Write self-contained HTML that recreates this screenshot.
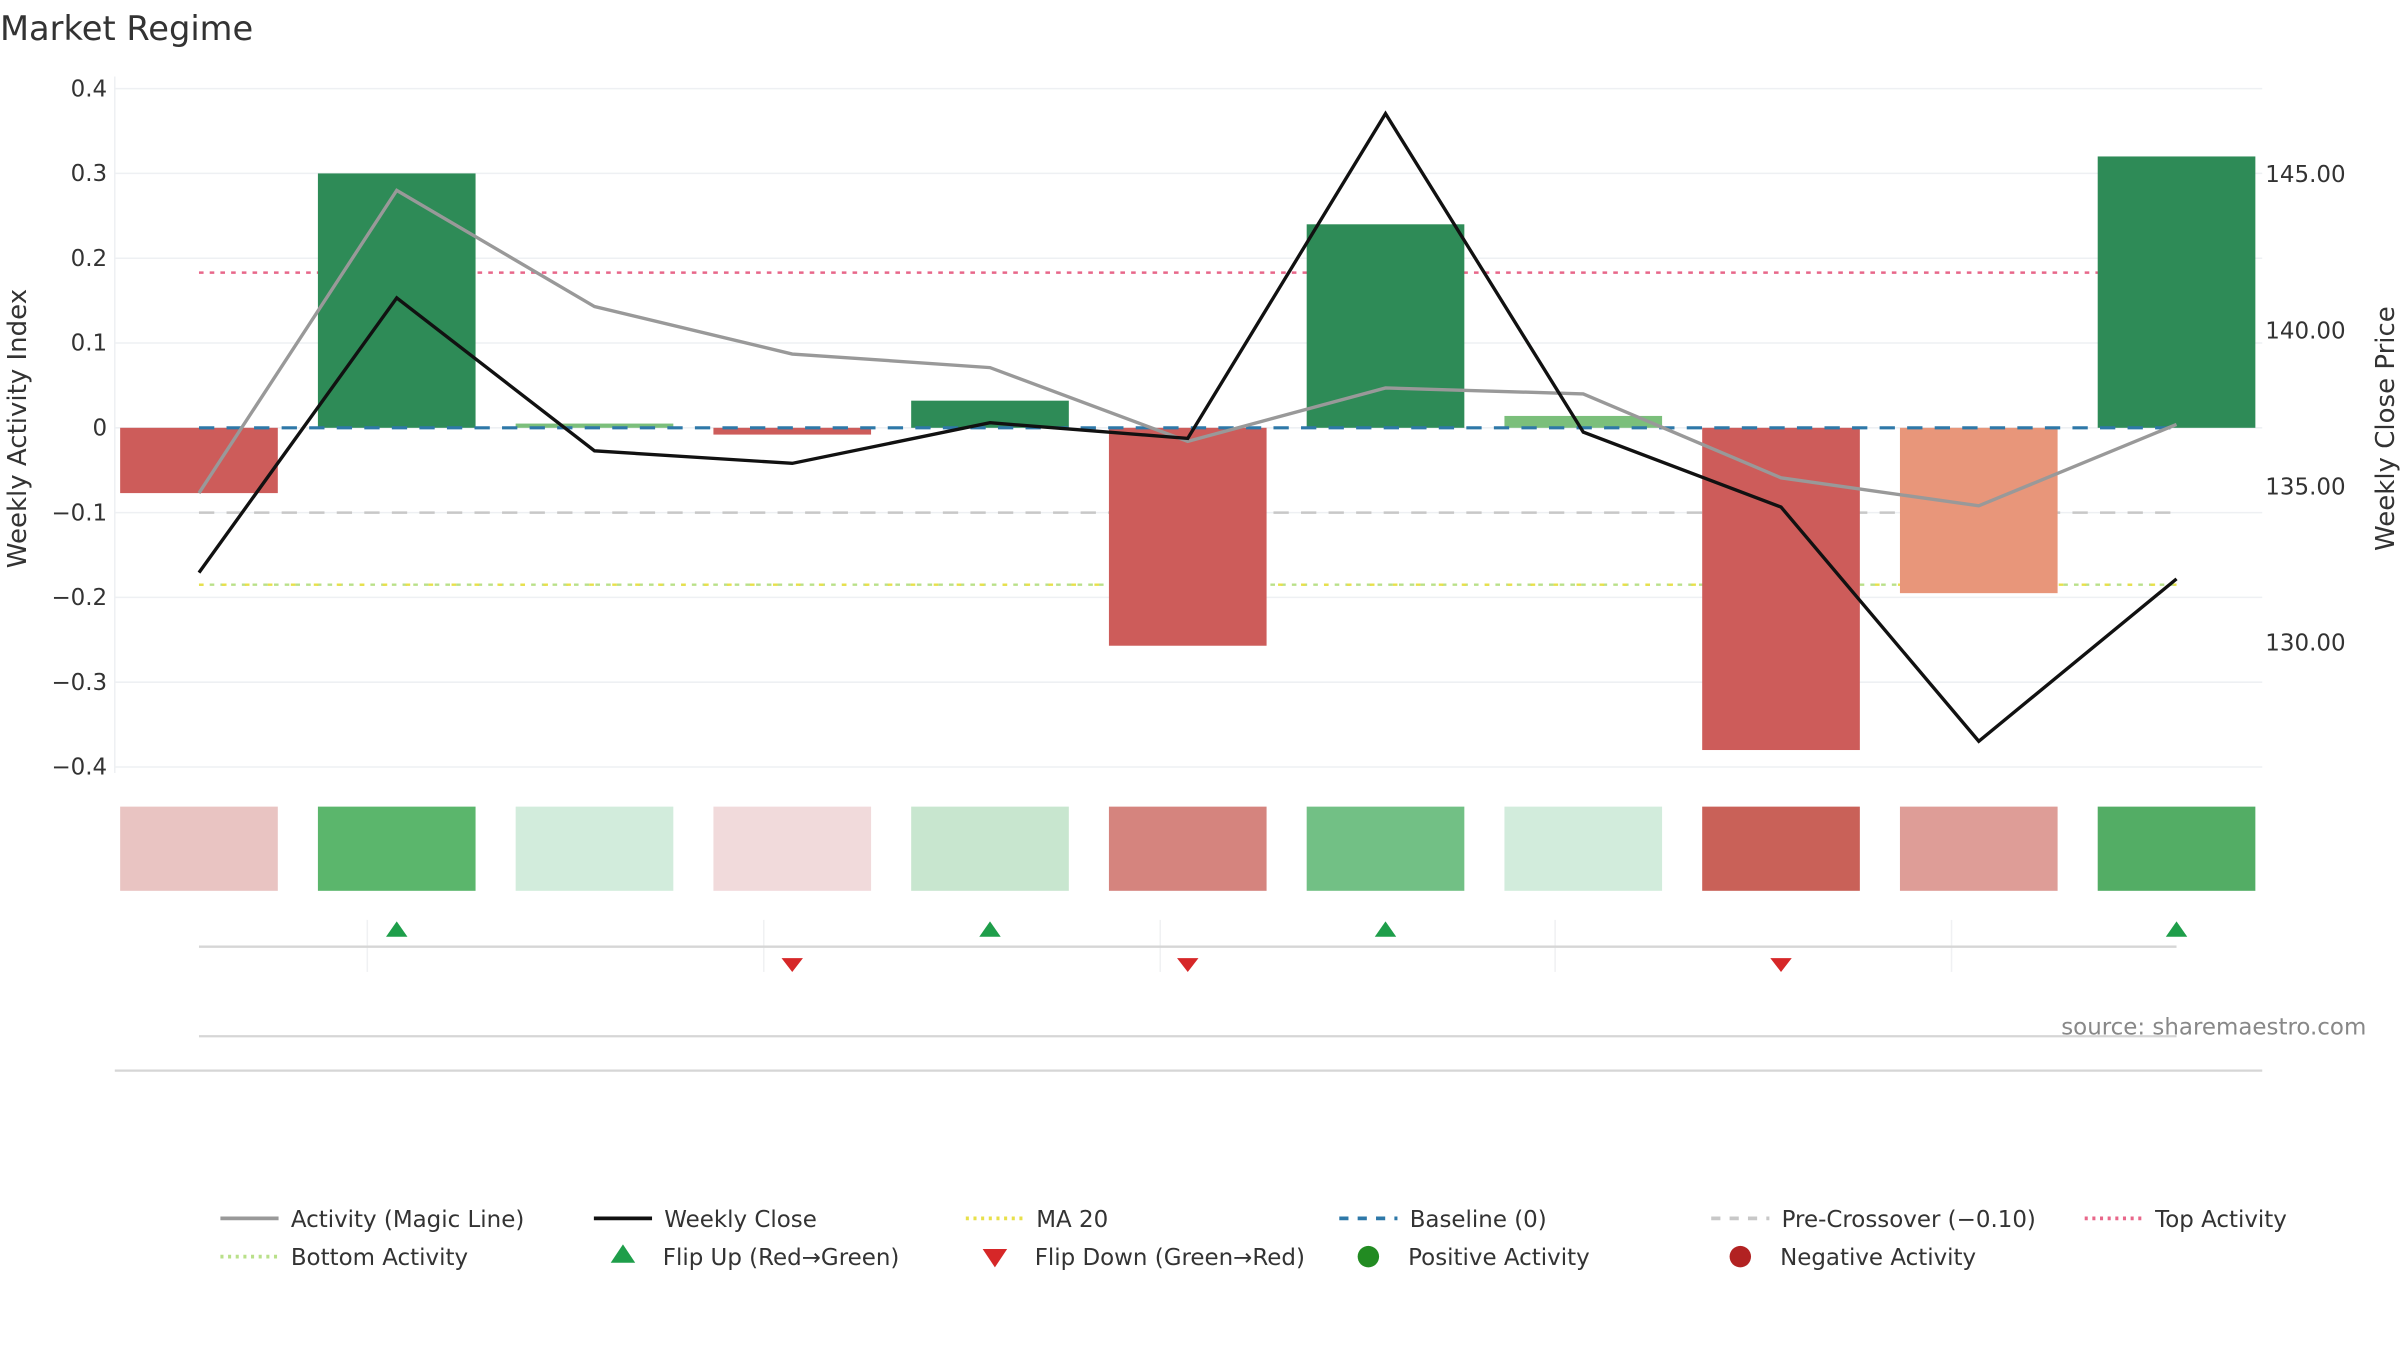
<!DOCTYPE html>
<html><head><meta charset="utf-8"><style>
html,body{margin:0;padding:0;background:#fff}
svg{display:block;font-family:"DejaVu Sans","Liberation Sans",sans-serif}
</style></head><body>
<svg id="chart" width="2400" height="1350" viewBox="0 0 1568 882" preserveAspectRatio="none" xmlns="http://www.w3.org/2000/svg">
<text x="0" y="26" font-size="22" fill="#333">Market Regime</text>
<text transform="translate(17,280) rotate(-90)" text-anchor="middle" font-size="17" fill="#333">Weekly Activity Index</text>
<text transform="translate(1564,280) rotate(-90)" text-anchor="middle" font-size="17" fill="#333">Weekly Close Price</text>
<text x="1546" y="676" text-anchor="end" font-size="15" fill="#888">source: sharemaestro.com</text>
<g id="grid"></g><g id="refs"></g><g id="bars"></g><g id="lines"></g><g id="strip"></g><g id="flips"></g><g id="legend"></g>
</svg>
<script>
const weeks = ["W1","W2","W3","W4","W5","W6","W7","W8","W9","W10","W11"];
const activity = [-0.077, 0.30, 0.005, -0.008, 0.032, -0.257, 0.24, 0.014, -0.38, -0.195, 0.32];
const magicLine = [-0.077, 0.28, 0.143, 0.087, 0.071, -0.016, 0.047, 0.04, -0.059, -0.092, 0.004];
const closePrice = [132.2, 141.0, 136.1, 135.7, 137.0, 136.5, 146.9, 136.7, 134.3, 126.8, 132.0];
const flips = [0, 1, 0, -1, 1, -1, 1, 0, -1, 0, 1];
const heatColors = ["#e9c4c2","#5bb66c","#d2ecdc","#f1dadb","#c8e6cf","#d5847e","#72c085","#d2ecdc","#c96158","#de9d97","#53ad65"];
const barColors = ["#cd5c5a","#2e8b57","#7bbf7b","#cd5c5a","#2e8b57","#cd5c5a","#2e8b57","#7bbf7b","#cd5c5a","#e8967a","#2e8b57"];
const leftTicks = [0.4,0.3,0.2,0.1,0,-0.1,-0.2,-0.3,-0.4];
const rightTicks = [145,140,135,130];
const topActivity = 0.183, bottomActivity = -0.185, ma20 = -0.185, preCross = -0.1, baseline = 0;

const NS="http://www.w3.org/2000/svg";
function mk(parent,tag,attrs){const e=document.createElementNS(NS,tag);for(const k in attrs)e.setAttribute(k,attrs[k]);document.getElementById(parent).appendChild(e);return e;}
const x = i => 130 + i*129.2;
const yL = v => 279.5 - v*554;
const yR = p => 113 + (145-p)*20.4;
const fmt = v => v===0?"0":(v<0?"\u2212"+Math.abs(v).toFixed(1):v.toFixed(1));

leftTicks.forEach(v=>{
  const l=mk("grid","line",{x1:75,x2:1478,y1:yL(v),y2:yL(v),stroke:"#eef0f3","stroke-width":1});
  
  
  const t=mk("grid","text",{x:70,y:yL(v)+5,"text-anchor":"end","font-size":15,fill:"#333"});
  t.textContent=fmt(v);
  
  
});
const ax=mk("grid","line",{x1:75,x2:75,y1:50,y2:505,stroke:"#eef0f3"});


rightTicks.forEach(p=>{
  const t=mk("grid","text",{x:1480,y:yR(p)+6,"font-size":15,fill:"#333"});
  t.textContent=p.toFixed(2);
  
  
});

activity.forEach((v,i)=>{
  const y0=Math.min(yL(v),yL(0)), h=Math.max(Math.abs(yL(v)-yL(0)),2);
  const r=mk("bars","rect",{x:x(i)-51.5,y:y0,width:103,height:h,fill:barColors[i]});
  
  
});

function ref(v,color,dash,name,w){
  const l=mk("refs","line",{x1:130,x2:1422,y1:yL(v),y2:yL(v),stroke:color,"stroke-width":w||1.6,"stroke-dasharray":dash});
  
  
}
ref(topActivity,"#e8678a","3 4","top-activity-line");
ref(preCross,"#c8c8c8","10 8","pre-crossover-line");
ref(bottomActivity,"#b9e08a","3 4","bottom-activity-line");
ref(ma20,"#e8e04a","3 12","ma20-line");

const bl=mk("lines","line",{x1:130,x2:1422,y1:yL(baseline),y2:yL(baseline),stroke:"#2e78a8","stroke-width":2,"stroke-dasharray":"10 8"});


const ml=mk("lines","polyline",{points:magicLine.map((v,i)=>x(i)+","+yL(v)).join(" "),fill:"none",stroke:"#999","stroke-width":2.2});


const cl=mk("lines","polyline",{points:closePrice.map((p,i)=>x(i)+","+yR(p)).join(" "),fill:"none",stroke:"#111","stroke-width":2.2});



heatColors.forEach((c,i)=>{
  const r=mk("strip","rect",{x:x(i)-51.5,y:527,width:103,height:55,fill:c});
  
  
});

[240,499,758,1016,1275].forEach(xx=>{
  const l=mk("flips","line",{x1:xx,x2:xx,y1:601,y2:635,stroke:"#f0f1f3"});
  
  
});
const fl=mk("flips","line",{x1:130,x2:1422,y1:618.5,y2:618.5,stroke:"#d6d6d6","stroke-width":1.5});


const l2=mk("flips","line",{x1:130,x2:1422,y1:677,y2:677,stroke:"#d6d6d6","stroke-width":1.5});


const l3=mk("flips","line",{x1:75,x2:1478,y1:699.5,y2:699.5,stroke:"#d6d6d6","stroke-width":1.5});


flips.forEach((f,i)=>{
  if(f===0)return;
  const cx=x(i);
  const pts=f>0?`${cx-7},612 ${cx+7},612 ${cx},602`:`${cx-7},626 ${cx+7},626 ${cx},635`;
  const p=mk("flips","polygon",{points:pts,fill:f>0?"#1e9e4a":"#d62728"});
  
  
});

const legendItems=[
 [144,796,"line","#999","","Activity (Magic Line)"],
 [388,796,"line","#111","","Weekly Close"],
 [631,796,"line","#e8e04a","2 3","MA 20"],
 [875,796,"line","#2e78a8","6 6","Baseline (0)"],
 [1118,796,"line","#c8c8c8","6 6","Pre-Crossover (\u22120.10)"],
 [1362,796,"line","#e8678a","2 3","Top Activity"],
 [144,821,"line","#b9e08a","2 3","Bottom Activity"],
 [407,821,"up","#1e9e4a","","Flip Up (Red\u2192Green)"],
 [650,821,"down","#d62728","","Flip Down (Green\u2192Red)"],
 [894,821,"dot","#228b22","","Positive Activity"],
 [1137,821,"dot","#b22222","","Negative Activity"]];
legendItems.forEach(it=>{
  const [lx,ly,kind,col,dash,label]=it;
  let s, tx;
  if(kind==="line"){s=mk("legend","line",{x1:lx,x2:lx+38,y1:ly,y2:ly,stroke:col,"stroke-width":2.5,"stroke-dasharray":dash});tx=lx+46;}
  else if(kind==="up"){s=mk("legend","polygon",{points:`${lx-8},${ly+4} ${lx+8},${ly+4} ${lx},${ly-8}`,fill:col});tx=lx+26;}
  else if(kind==="down"){s=mk("legend","polygon",{points:`${lx-8},${ly-5} ${lx+8},${ly-5} ${lx},${ly+7}`,fill:col});tx=lx+26;}
  else {s=mk("legend","circle",{cx:lx,cy:ly,r:7,fill:col});tx=lx+26;}
  
  
  const t=mk("legend","text",{x:tx,y:ly+5.5,"font-size":15,fill:"#333"});
  t.textContent=label;
  
  
});
</script>
</body></html>
